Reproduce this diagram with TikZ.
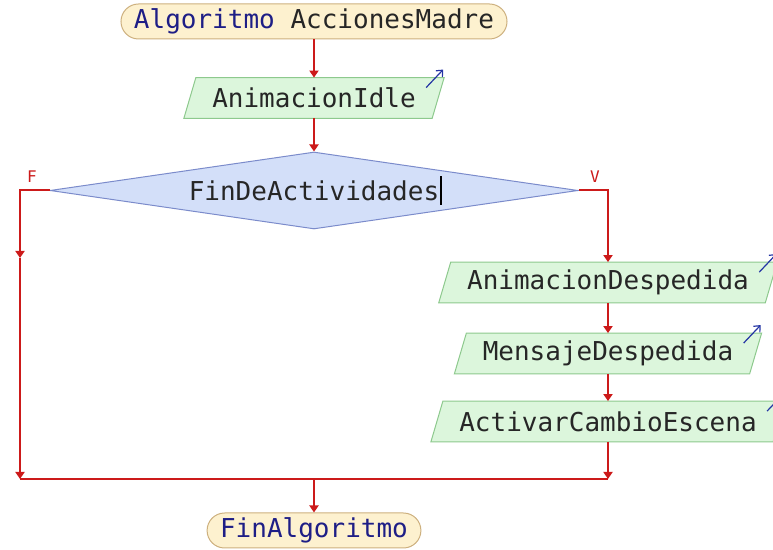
\documentclass[tikz,border=0pt]{standalone}
\usepackage{fontspec}
\setmonofont{DejaVu Sans Mono}
\usepackage{xcolor}
\usetikzlibrary{arrows.meta,shapes.geometric,calc,backgrounds}
\definecolor{termfill}{HTML}{FDF1CF}
\definecolor{termline}{HTML}{CDB07E}
\definecolor{iofill}{HTML}{DCF6DC}
\definecolor{ioline}{HTML}{8DC98D}
\definecolor{decfill}{HTML}{D3DFF9}
\definecolor{decline}{HTML}{7B8BCB}
\definecolor{flowred}{HTML}{CC1A1A}
\definecolor{kwblue}{HTML}{1E1E86}
\definecolor{outblue}{HTML}{2434A4}

\begin{document}
\begin{tikzpicture}[x=0.5pt,y=-0.5pt,
  every node/.style={font=\ttfamily\fontsize{13}{15}\selectfont,text=black!85},
  term/.style={draw=termline,fill=termfill,rounded corners=8.75pt,
    minimum height=17.5pt,inner xsep=6.5pt,inner ysep=0pt,line width=0.5pt},
  io/.style={minimum height=20pt,inner xsep=8pt,inner ysep=0pt},
  iobox/.style={draw=ioline,fill=iofill,line width=0.5pt},
  decision/.style={diamond,aspect=6.86,draw=decline,fill=decfill,
    minimum width=264pt,minimum height=38.5pt,inner sep=0pt,line width=0.5pt},
  flow/.style={draw=flowred,line width=1pt,-{Triangle[width=4.5pt,length=3.5pt]}},
  joinline/.style={draw=flowred,line width=1pt},
  branch/.style={text=flowred,font=\ttfamily\fontsize{8}{9}\selectfont},
  outarrow/.style={draw=outblue,line width=0.6pt,-{Straight Barb[length=2.5pt,width=4.5pt]}}]
  \useasboundingbox (0,0) rectangle (773,550);

  \node[term] (inicio) at (314,21.5) {\textcolor{kwblue}{Algoritmo} AccionesMadre};
  \node[io] (ai) at (314,98) {AnimacionIdle};
  \node[decision] (dec) at (314,190.5) {FinDeActividades};
  \node[io] (ad) at (608,282.5) {AnimacionDespedida};
  \node[io] (md) at (608,353.5) {MensajeDespedida};
  \node[io] (acb) at (608,421.5) {ActivarCambioEscena};
  \node[term,text=kwblue] (fin) at (314,530.5) {FinAlgoritmo};

  \begin{scope}[on background layer]
    \foreach \n in {ai,ad,md,acb}
      \draw[iobox] ([xshift=-6pt]\n.south west) -- (\n.south east)
        -- ([xshift=6pt]\n.north east) -- (\n.north west) -- cycle;
  \end{scope}

  \node[branch] (flabel) at (32,177) {F};
  \node[branch] (vlabel) at (595,177) {V};

  \coordinate (fmid) at (20,258);
  \coordinate (fjoin) at (20,479);
  \coordinate (vjoin) at (608,479);
  \coordinate (mjoin) at (314,479);

  \draw[flow] (inicio.south) -- (ai.north);
  \draw[flow] (ai.south) -- (dec.north);
  \draw[flow] (dec.west) -| (fmid);
  \draw[flow] (fmid) -- (fjoin);
  \draw[flow] (dec.east) -| (ad.north);
  \draw[flow] (ad.south) -- (md.north);
  \draw[flow] (md.south) -- (acb.north);
  \draw[flow] (acb.south) -- (vjoin);
  \draw[joinline] (fjoin) -- (vjoin);
  \draw[flow] (mjoin) -- (fin.north);

  \draw[line width=0.6pt] ($(dec.center)+(127,-14)$) -- ++(0,29);

  \foreach \n in {ai,ad,md,acb}
    \draw[outarrow] ([shift={(-6,10)}]\n.north east) -- ++(17,-18);
\end{tikzpicture}
\end{document}
